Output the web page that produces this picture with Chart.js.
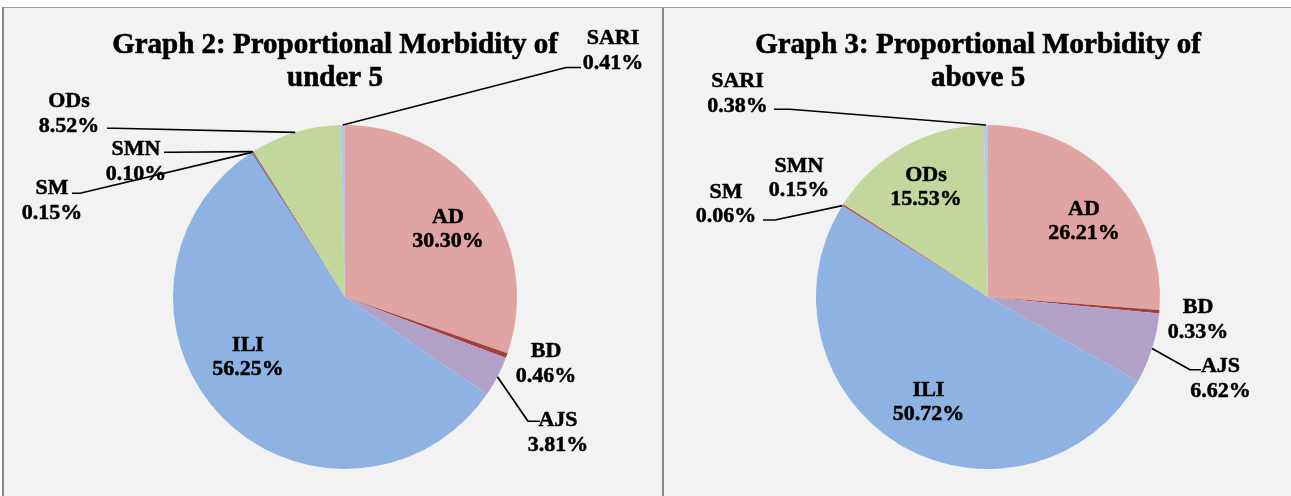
<!DOCTYPE html>
<html>
<head>
<meta charset="utf-8">
<script src="https://cdn.jsdelivr.net/npm/chart.js@4.4.0/dist/chart.umd.min.js"></script>
<style>
  html, body { margin: 0; padding: 0; background: #fff; width: 1291px; height: 496px; overflow: hidden; }
  .panel { position: absolute; top: 7px; height: 488px; background: #f2f2f2; border-top: 1px solid #9a9a9a; border-left: 2px solid #878787; }
  #leftPanel { left: 2px; width: 658px; }
  #rightPanel { left: 662px; width: 627px; }
  canvas { display: block; }
</style>
</head>
<body>
<div class="panel" id="leftPanel"><canvas id="under5Chart" width="658" height="488"></canvas></div>
<div class="panel" id="rightPanel"><canvas id="above5Chart" width="627" height="488"></canvas></div>
<script>
// --- DATA ---
const categories = ["AD", "BD", "AJS", "ILI", "SM", "SMN", "ODs", "SARI"];
const under5Values = [30.30, 0.46, 3.81, 56.25, 0.15, 0.10, 8.52, 0.41];
const above5Values = [26.21, 0.33, 6.62, 50.72, 0.06, 0.15, 15.53, 0.38];
const under5Title = ["Graph 2: Proportional Morbidity of", "under 5"];
const above5Title = ["Graph 3: Proportional Morbidity of", "above 5"];

// slice colours (Excel-ish tints)
const sliceColors = ["#E0A4A3", "#A3403D", "#B2A1C7", "#8EB3E3", "#5F7FB8", "#C0504D", "#C3D69B", "#B7C6E5"];

// label block offsets from pie centre, and optional leader [elbowX, elbowY, endX, endY] relative to label
const under5Placement = [
  { dx: 103, dy: -69.5 },
  { dx: 201, dy: 65 },
  { dx: 213, dy: 134, leader: [-30, -9.75, -18, -9.75] },
  { dx: -97, dy: 58.5 },
  { dx: -293, dy: -98, leader: [28, -5.75, 20, -5.75] },
  { dx: -209, dy: -137, leader: [36, -7.75, 28, -7.75] },
  { dx: -276, dy: -185, leader: [46, 16.25, 38, 16.25] },
  { dx: 268, dy: -248, leader: [-47, 18.5, -32, 18.5] }
];
const above5Placement = [
  { dx: 96, dy: -77.5 },
  { dx: 210, dy: 21 },
  { dx: 232.5, dy: 80, leader: [-30.5, -7.25, -19.5, -7.25] },
  { dx: -59.5, dy: 103.5 },
  { dx: -262, dy: -94.75, leader: [49, 17.75, 37, 17.75] },
  { dx: -189, dy: -120.5 },
  { dx: -62, dy: -111.5 },
  { dx: -250.5, dy: -205, leader: [52.5, 17.25, 36.5, 17.25] }
];

const FONT = '"Liberation Serif", "Times New Roman", serif';

// bold text with a hairline stroke so it reads as heavy as the original
function heavyText(ctx, text, x, y) {
  ctx.fillText(text, x, y);
  ctx.strokeText(text, x, y);
}

// draws title, percentage labels and leader lines
const sliceLabels = {
  id: "sliceLabels",
  afterDraw(chart, args, opts) {
    const ctx = chart.ctx;
    const meta = chart.getDatasetMeta(0);
    const values = chart.data.datasets[0].data;
    ctx.save();
    ctx.fillStyle = "#000";
    ctx.strokeStyle = "#000";
    ctx.textAlign = "center";
    ctx.textBaseline = "alphabetic";
    ctx.lineJoin = "round";

    ctx.lineWidth = 0.6;
    ctx.font = "bold 29px " + FONT;
    opts.title.forEach((line, i) => heavyText(ctx, line, opts.titleX, 45 + i * 33));

    ctx.font = "bold 22px " + FONT;
    meta.data.forEach((arc, i) => {
      const place = opts.places[i];
      const lx = arc.x + place.dx;
      const ly = arc.y + place.dy;
      if (place.leader) {
        const mid = (arc.startAngle + arc.endAngle) / 2;
        ctx.lineWidth = 1.7;
        ctx.beginPath();
        ctx.moveTo(arc.x + Math.cos(mid) * arc.outerRadius, arc.y + Math.sin(mid) * arc.outerRadius);
        ctx.lineTo(lx + place.leader[0], ly + place.leader[1]);
        ctx.lineTo(lx + place.leader[2], ly + place.leader[3]);
        ctx.stroke();
      }
      ctx.lineWidth = 0.5;
      heavyText(ctx, chart.data.labels[i], lx, ly - 12.25 + 7.5);
      heavyText(ctx, values[i].toFixed(2) + "%", lx, ly + 12.25 + 7.5);
    });
    ctx.restore();
  }
};

function drawPie(canvasId, values, title, places, padding, titleX) {
  const ctx = document.getElementById(canvasId).getContext("2d");
  return new Chart(ctx, {
    type: "pie",
    data: {
      labels: categories,
      datasets: [{
        data: values,
        backgroundColor: sliceColors,
        borderWidth: 0,
        hoverOffset: 0,
        offset: 0
      }]
    },
    options: {
      responsive: false,
      animation: false,
      events: [],
      layout: { padding: padding },
      plugins: {
        legend: { display: false },
        tooltip: { enabled: false },
        sliceLabels: { title: title, places: places, titleX: titleX }
      }
    },
    plugins: [sliceLabels]
  });
}

drawPie("under5Chart", under5Values, under5Title, under5Placement,
  { left: 169, right: 145, top: 117, bottom: 27 }, 331);
drawPie("above5Chart", above5Values, above5Title, above5Placement,
  { left: 152, right: 131, top: 117, bottom: 27 }, 314);
</script>
</body>
</html>
